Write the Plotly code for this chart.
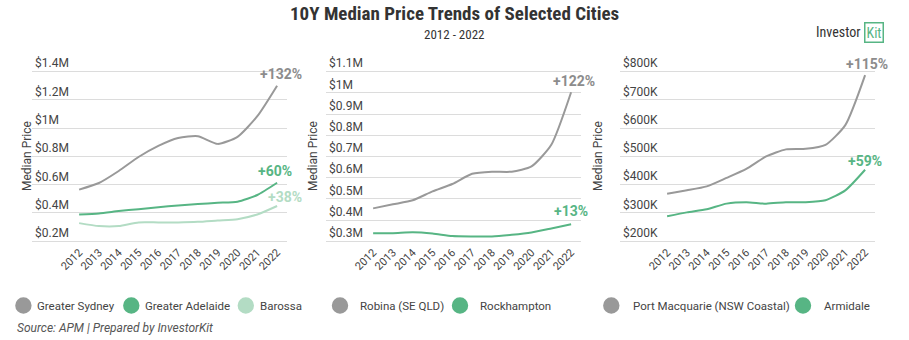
import plotly.graph_objects as go

W, H = 909, 340

years = list(range(2012, 2023))
year_labels = [str(y) for y in years]

# Panel 1 (values in $M)
sydney = [0.565, 0.612, 0.697, 0.796, 0.875, 0.931, 0.943, 0.889, 0.939, 1.085, 1.301]
adelaide = [0.389, 0.396, 0.413, 0.427, 0.441, 0.453, 0.463, 0.472, 0.480, 0.527, 0.614]
barossa = [0.328, 0.307, 0.307, 0.333, 0.333, 0.333, 0.337, 0.347, 0.356, 0.389, 0.449]
p1_ticks = [0.2, 0.4, 0.6, 0.8, 1.0, 1.2, 1.4]
p1_ticktext = ["$0.2M", "$0.4M", "$0.6M", "$0.8M", "$1M", "$1.2M", "$1.4M"]

# Panel 2 (values in $M)
robina = [0.455, 0.474, 0.493, 0.535, 0.570, 0.618, 0.628, 0.628, 0.653, 0.755, 1.003]
rockhampton = [0.338, 0.338, 0.342, 0.336, 0.324, 0.322, 0.322, 0.330, 0.341, 0.360, 0.380]
p2_ticks = [0.3, 0.4, 0.5, 0.6, 0.7, 0.8, 0.9, 1.0, 1.1]
p2_ticktext = ["$0.3M", "$0.4M", "$0.5M", "$0.6M", "$0.7M", "$0.8M", "$0.9M", "$1M", "$1.1M"]

# Panel 3 (values in $K)
port_macquarie = [368, 380, 394, 424, 456, 500, 525, 527, 541, 611, 788]
armidale = [288, 302, 313, 333, 338, 333, 338, 338, 345, 380, 453]
p3_ticks = [200, 300, 400, 500, 600, 700, 800]
p3_ticktext = ["$200K", "$300K", "$400K", "$500K", "$600K", "$700K", "$800K"]

growth_labels = {
    "Greater Sydney": "+132%", "Greater Adelaide": "+60%", "Barossa": "+38%",
    "Robina (SE QLD)": "+122%", "Rockhampton": "+13%",
    "Port Macquarie (NSW Coastal)": "+115%", "Armidale": "+59%",
}

GRAY = "#999999"
GRAY_TXT = "#8c8c8c"
GREEN = "#57b584"
LGREEN = "#b3dcc4"
FONT = "Roboto"

fig = go.Figure()

panels = [
    dict(ax="", series=[("Greater Sydney", sydney, GRAY, GRAY_TXT), ("Greater Adelaide", adelaide, GREEN, GREEN), ("Barossa", barossa, LGREEN, LGREEN)],
         ticks=p1_ticks, ticktext=p1_ticktext, xpx=(32, 287)),
    dict(ax="2", series=[("Robina (SE QLD)", robina, GRAY, GRAY_TXT), ("Rockhampton", rockhampton, GREEN, GREEN)],
         ticks=p2_ticks, ticktext=p2_ticktext, xpx=(326, 581)),
    dict(ax="3", series=[("Port Macquarie (NSW Coastal)", port_macquarie, GRAY, GRAY_TXT), ("Armidale", armidale, GREEN, GREEN)],
         ticks=p3_ticks, ticktext=p3_ticktext, xpx=(620, 875)),
]

label_shift = {
    "Greater Sydney": (4, 12), "Greater Adelaide": (-2, 12), "Barossa": (8, 9),
    "Robina (SE QLD)": (3, 11), "Rockhampton": (0, 13),
    "Port Macquarie (NSW Coastal)": (2, 11), "Armidale": (0, 9),
}

top_px, bot_px = 71.7, 241.2
pad = 0.01
for p in panels:
    ax = p["ax"]
    xa, ya = "x" + ax, "y" + ax
    for name, vals, col, tcol in p["series"]:
        fig.add_trace(go.Scatter(x=years, y=vals, mode="lines", name=name,
                                 line=dict(color=col, width=2, shape="spline", smoothing=0.6),
                                 xaxis=xa, yaxis=ya, showlegend=False, hoverinfo="skip"))
        dx, dy = label_shift[name]
        fig.add_annotation(x=years[-1], y=vals[-1], xref=xa, yref=ya, text="<b>%s</b>" % growth_labels[name],
                           showarrow=False, xshift=dx, yshift=dy, yanchor="middle", xanchor="center",
                           font=dict(family=FONT, size=14, color=tcol))
    t = p["ticks"]
    span = t[-1] - t[0]
    lo, hi = t[0] - span * pad, t[-1] + span * pad
    ppu = (bot_px - top_px) / span
    y_top = top_px - (hi - t[-1]) * ppu
    y_bot = bot_px + (t[0] - lo) * ppu
    dom_y = [1 - y_bot / H, 1 - y_top / H]
    dom_x = [p["xpx"][0] / W, p["xpx"][1] / W]
    fig.layout["xaxis" + ax] = dict(domain=dom_x, anchor=ya, range=[2009.62, 2022.5],
                                    tickvals=years, ticktext=year_labels, tickangle=-45,
                                    showgrid=False, zeroline=False, showline=False, ticks="",
                                    automargin=False,
                                    tickfont=dict(family=FONT, size=11, color="#444"))
    fig.layout["yaxis" + ax] = dict(domain=dom_y, anchor=xa, range=[lo, hi],
                                    tickvals=t, ticktext=p["ticktext"],
                                    ticklabelposition="inside top", ticklabeloverflow="allow",
                                    showgrid=True, gridcolor="#dcdcdc", gridwidth=1,
                                    zeroline=False, showline=False, ticks="", automargin=False,
                                    tickfont=dict(family=FONT, size=12, color="#444"))

# y axis titles
for xpx in (18, 313, 607):
    fig.add_annotation(x=xpx / W, y=1 - 156 / H, xref="paper", yref="paper", text="Median Price",
                       textangle=-90, showarrow=False, font=dict(family=FONT, size=12, color="#444"))

# Legend
legend_items = [
    ("Greater Sydney", GRAY, 23.4, 35),
    ("Greater Adelaide", GREEN, 131.3, 143.3),
    ("Barossa", LGREEN, 245.8, 258.3),
    ("Robina (SE QLD)", GRAY, 340, 358.3),
    ("Rockhampton", GREEN, 460, 478.3),
    ("Port Macquarie (NSW Coastal)", GRAY, 611.3, 630.7),
    ("Armidale", GREEN, 803, 821.7),
]
ly = 305.5
for name, col, cx, tx in legend_items:
    fig.add_shape(type="circle", xref="paper", yref="paper", xsizemode="pixel", ysizemode="pixel",
                  xanchor=cx / W, yanchor=1 - ly / H, x0=-8.2, x1=8.2, y0=-8.2, y1=8.2,
                  fillcolor=col, line=dict(width=0))
    fig.add_annotation(x=tx / W, y=1 - ly / H, xref="paper", yref="paper", text=name, showarrow=False,
                       xanchor="left", yanchor="middle", font=dict(family=FONT, size=11.5, color="#444"))

# Titles
TFONT = "Roboto Condensed, Liberation Sans Narrow, DejaVu Sans Condensed, Roboto"
fig.add_annotation(x=0.5, y=1 - 14 / H, xref="paper", yref="paper", text="<b>10Y Median Price Trends of Selected Cities</b>",
                   showarrow=False, yanchor="middle", font=dict(family=TFONT, size=19, color="#333"))
fig.add_annotation(x=0.5, y=1 - 35 / H, xref="paper", yref="paper", text="2012 - 2022",
                   showarrow=False, yanchor="middle", font=dict(family=TFONT, size=13, color="#333"))
fig.add_annotation(x=15 / W, y=1 - 328 / H, xref="paper", yref="paper", text="<i>Source: APM | Prepared by InvestorKit</i>",
                   showarrow=False, xanchor="left", yanchor="middle", font=dict(family=FONT, size=12, color="#555"))

# Logo
fig.add_annotation(x=862 / W, y=1 - 32 / H, xref="paper", yref="paper", text="Investor",
                   showarrow=False, xanchor="right", yanchor="middle", font=dict(family=TFONT, size=14, color="#333"))
fig.add_annotation(x=864 / W, y=1 - 32 / H, xref="paper", yref="paper", text="Kit",
                   showarrow=False, xanchor="left", yanchor="middle", bordercolor=GREEN, borderwidth=1.5, borderpad=1,
                   font=dict(family=TFONT, size=14, color=GREEN))

fig.update_layout(width=W, height=H, margin=dict(l=0, r=0, t=0, b=0, autoexpand=False),
                  paper_bgcolor="white", plot_bgcolor="white", showlegend=False,
                  font=dict(family=FONT))

fig.write_html("out.html", config={"displayModeBar": False})
